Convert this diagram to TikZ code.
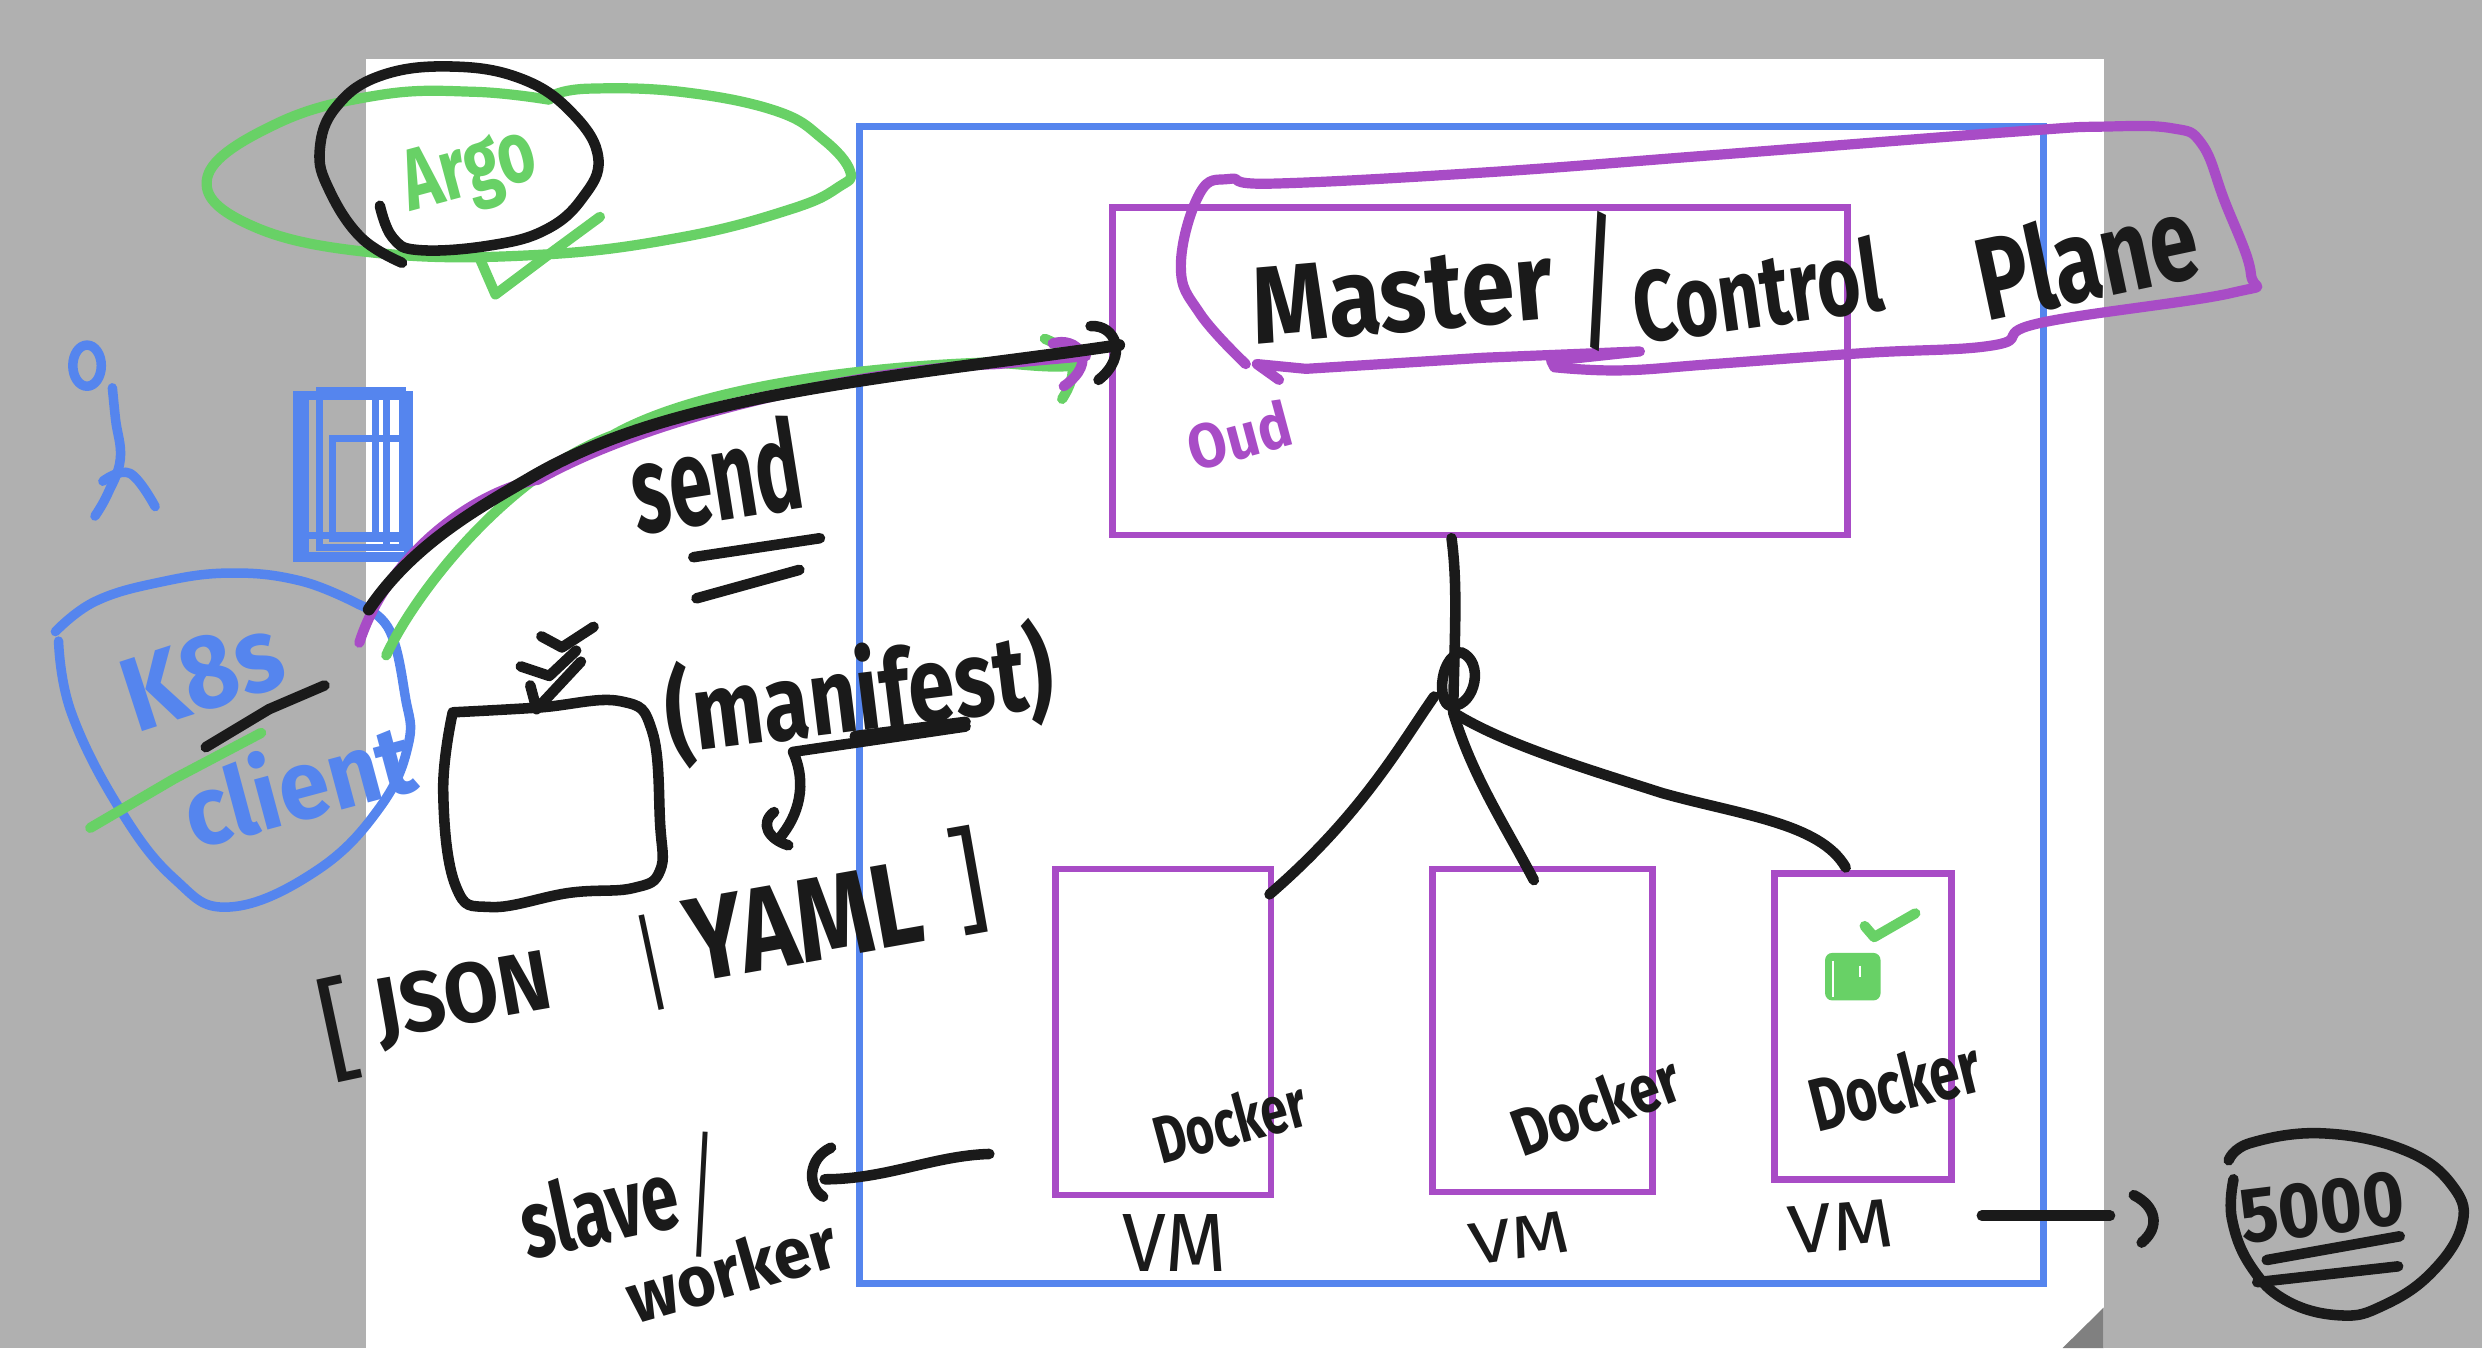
\documentclass[tikz,border=0pt]{standalone}
\usepackage{graphicx}
\usepackage{fontspec}
\setmainfont{Fira Sans}
\definecolor{bgray}{HTML}{B0B0B0}
\definecolor{fold}{HTML}{808080}
\definecolor{ink}{HTML}{1A1A1A}
\definecolor{gpen}{HTML}{68D166}
\definecolor{ppen}{HTML}{A84CC6}
\definecolor{bpen}{HTML}{5585EE}
\newdimen\hwu \hwu=0.01583cm
\newcommand{\hw}[3]{\resizebox{#1\hwu}{#2\hwu}{\bfseries #3}}
\newcommand{\hwl}[3]{\resizebox{#1\hwu}{#2\hwu}{#3}}
\tikzset{
 inkline/.style={draw=ink,line width=3pt,line cap=round,line join=round},
 gline/.style={draw=gpen,line width=2.9pt,line cap=round,line join=round},
 pline/.style={draw=ppen,line width=2.9pt,line cap=round,line join=round},
 bline/.style={draw=bpen,line width=2.7pt,line cap=round,line join=round},
 frame/.style={draw=#1,line width=1.9pt,rectangle,inner sep=0pt,outer sep=0pt},
 script/.style={inner sep=0pt,outer sep=0pt,text=#1},
 fh/.style={smooth,tension=0.7}
}
\begin{document}
\begin{tikzpicture}[x=0.01583cm,y=-0.01583cm]
\useasboundingbox (0,0) rectangle (1568,851.6);
\fill[bgray] (0,0) rectangle (1568,851.6);
\fill[white] (231,37) rectangle (1329,851.6);
\fill[fold] (1303,851.6) -- (1329,826) -- (1329,851.6) -- cycle;

% frames
\node[frame=bpen,minimum width=748\hwu,minimum height=731\hwu] (cluster) at (917,445.5) {};
\node[frame=ppen,minimum width=464\hwu,minimum height=207\hwu] (master) at (935,234.5) {};
\node[frame=ppen,minimum width=136\hwu,minimum height=206\hwu] (vma) at (735,652) {};
\node[frame=ppen,minimum width=139\hwu,minimum height=204\hwu] (vmb) at (974.5,651) {};
\node[frame=ppen,minimum width=112\hwu,minimum height=193\hwu] (vmc) at (1177,648.5) {};

% Argo
\draw[gline] plot[fh] coordinates {(347,63) (300,58) (240,60) (175,78) (131,112) (160,143) (240,160) (340,161) (430,150) (500,132) (530,118) (537,108) (520,88) (490,70) (430,58) (372,56) (350,60)};
\node[script=gpen,rotate=15] (argo) at (297,110) {\hw{85}{38}{Argo}};
\draw[inkline] plot[fh] coordinates {(254,166) (228,150) (208,120) (202,95) (212,68) (240,48) (285,42) (330,50) (362,72) (378,100) (368,125) (345,145) (310,155) (265,158) (248,150) (240,130)};
\draw[gline] (379,137) -- (345,162) -- (313,186) -- (303,163);

% user
\draw[bline] (55,231) ellipse (9 and 13);
\draw[bline] plot[fh] coordinates {(71,245) (73,265) (76,290) (68,312) (60,326)};
\draw[bline] plot[fh] coordinates {(65,304) (82,299) (98,320)};

% document icon
\draw[bline,line join=miter] (188,250) rectangle (258,352);
\draw[bpen,line width=2pt] (202,247) rectangle (254,346);
\draw[bpen,line width=2pt] (210,277) rectangle (254,340);
\draw[bpen,line width=2pt] (193,250) -- (193,352) (237,250) -- (237,340) (244,250) -- (244,345) (188,338) -- (258,338);

% kubectl client
\draw[bline] plot[fh] coordinates {(35,399) (60,380) (100,368) (145,362) (190,367) (227,382)};
\draw[bline] plot[fh] coordinates {(227,382) (246,398) (256,440) (258,470) (240,510) (200,550) (145,573) (110,555) (75,510) (45,450) (37,405)};
\node[script=bpen,rotate=18] (kas) at (128,426) {\hw{102}{46}{K8s}};
\node[script=bpen,rotate=15] (client) at (188,494) {\hw{148}{50}{client}};
\draw[gline] (57,523) -- (110,492) -- (165,463);
\draw[inkline] (130,472) -- (170,448) -- (205,433);

% send arrows
\coordinate (csend) at (233,385);
\coordinate (psend) at (227,406);
\coordinate (gsend) at (244,414);
\coordinate (minb) at (707,218);
\coordinate (minp) at (686,225);
\coordinate (ming) at (678,231);
\draw[gline] (gsend) .. controls (262,375) and (320,300) .. (387,275) .. controls (440,245) and (540,232) .. (623,229) .. controls (640,229) and (660,233) .. (ming);
\draw[gline] (660,214) .. controls (675,220) and (685,230) .. (671,252);
\draw[pline] (psend) .. controls (245,350) and (300,310) .. (340,303) .. controls (420,258) and (560,232) .. (630,230) -- (minp);
\draw[pline] (665,217) .. controls (680,212) and (695,228) .. (672,244);
\draw[inkline,line width=3.4pt] (csend) .. controls (260,345) and (300,322) .. (333,303) .. controls (380,275) and (430,262) .. (483,251) .. controls (560,236) and (640,228) .. (minb);
\draw[inkline] (689,206) .. controls (705,205) and (713,225) .. (694,240);

% send label
\node[script=ink,rotate=9] (send) at (452,300) {\hw{108}{60}{send}};
\draw[inkline] (438,352) -- (518,340);
\draw[inkline] (440,378) -- (505,360);

% manifest box
\draw[inkline] plot[fh] coordinates {(286,450) (340,447) (392,443) (412,462) (417,520) (417,550) (400,561) (360,564) (310,573) (288,560) (280,500) (286,450)};
\draw[inkline] (342,402) -- (355,409) -- (375,396);
\draw[inkline] (329,421) -- (347,427) -- (364,411);
\draw[inkline] (335,433) -- (339,448) -- (367,418);
\node[script=ink,rotate=7] (manifest) at (543,438) {\hw{246}{58}{(manifest)}};
\draw[inkline] (540,465) -- (610,456);
\coordinate (mfrom) at (610,459);
\coordinate (mto) at (492,530);
\draw[inkline] (mfrom) -- (501,475) .. controls (510,495) and (505,515) .. (mto);
\draw[inkline] (489,513) .. controls (480,520) and (485,530) .. (498,534);

% formats
\node[script=ink,rotate=12] (lbr) at (214,650) {\hwl{24}{58}{[}};
\node[script=ink,rotate=10] (json) at (293,632) {\hw{112}{38}{JSON}};
\node[script=ink,rotate=12] (bar) at (412,608) {\hw{9}{54}{|}};
\node[script=ink,rotate=10] (yaml) at (508,582) {\hw{150}{52}{YAML}};
\node[script=ink,rotate=10] (rbr) at (612,556) {\hwl{22}{60}{]}};

% master label
\draw[pline] plot[fh] coordinates {(787,230) (758,198) (746,168) (758,122) (777,113) (804,116) (937,109) (1082,98) (1275,83) (1328,80) (1372,81) (1391,91) (1405,126) (1422,173) (1410,185) (1289,204) (1260,218) (1178,223) (1082,230) (1024,234) (982,232)};
\draw[pline] (982,232) -- (980,228) -- (1036,222) -- (937,226) -- (825,233) -- (794,230) -- (808,240);
\node[script=ink,rotate=5] (mastertxt) at (886,186) {\hw{190}{48}{Master}};
\node[script=ink,rotate=3] (slash) at (1010,178) {\hw{20}{78}{/}};
\node[script=ink,rotate=8] (controltxt) at (1110,183) {\hw{158}{48}{Control}};
\node[script=ink,rotate=12] (planetxt) at (1318,162) {\hw{140}{56}{Plane}};
\node[script=ppen,rotate=15] (oud) at (783,275) {\hw{66}{30}{Oud}};

% tree
\coordinate (junction) at (918,450);
\coordinate (mastout) at (917,340);
\coordinate (vmain) at (802,565);
\coordinate (vmbin) at (969,556);
\coordinate (vmcin) at (1166,548);
\draw[inkline] (mastout) .. controls (921,370) and (919,400) .. (junction);
\draw[inkline] (923,412) .. controls (908,416) and (908,448) .. (918,446) .. controls (932,445) and (938,418) .. (923,412);
\draw[inkline] (906,440) .. controls (885,470) and (860,515) .. (vmain);
\draw[inkline] (junction) .. controls (930,490) and (950,520) .. (vmbin);
\draw[inkline] (junction) .. controls (950,470) and (1000,485) .. (1050,501) .. controls (1100,515) and (1150,520) .. (vmcin);

% vm labels
\node[script=ink,rotate=15] (dka) at (777,708) {\hw{98}{32}{Docker}};
\node[script=ink,rotate=20] (dkb) at (1008,698) {\hw{110}{32}{Docker}};
\node[script=ink,rotate=14] (dkc) at (1197,685) {\hw{110}{36}{Docker}};
\node[script=ink] (vla) at (742,785) {\hwl{66}{36}{VM}};
\node[script=ink,rotate=8] (vlb) at (960,782) {\hwl{64}{26}{VM}};
\node[script=ink,rotate=5] (vlc) at (1163,775) {\hwl{66}{30}{VM}};

% pod tick
\draw[gline] (1178,585) -- (1184,592) -- (1210,577);
\fill[gpen,rounded corners=2pt] (1153,602) rectangle (1188,632);
\draw[white,line width=.5pt] (1158,607) -- (1158,630) (1175,610) -- (1175,617);

% slave
\node[script=ink,rotate=12] (slave) at (378,763) {\hw{100}{46}{slave}};
\node[script=ink,rotate=-3] (slashb) at (444,755) {\hw{8}{70}{|}};
\node[script=ink,rotate=16] (worker) at (462,802) {\hw{136}{34}{worker}};
\coordinate (sfrom) at (625,729);
\coordinate (sto) at (521,745);
\draw[inkline] (sfrom) .. controls (590,730) and (560,745) .. (sto);
\draw[inkline] (525,725) .. controls (510,732) and (510,750) .. (520,756);

% 5000
\coordinate (ffrom) at (1252,768);
\coordinate (fto) at (1333,768);
\draw[inkline] (ffrom) -- (fto);
\draw[inkline] (1348,755) .. controls (1362,762) and (1365,775) .. (1353,785);
\draw[inkline] plot[fh] coordinates {(1408,733) (1422,722) (1468,716) (1520,727) (1550,750) (1555,775) (1535,805) (1505,825) (1479,831) (1445,822) (1422,800) (1410,770) (1411,745)};
\node[script=ink,rotate=7] (fivek) at (1467,763) {\hw{104}{34}{5000}};
\draw[inkline] (1432,796) -- (1516,781);
\draw[inkline] (1426,810) -- (1515,800);
\end{tikzpicture}
\end{document}
